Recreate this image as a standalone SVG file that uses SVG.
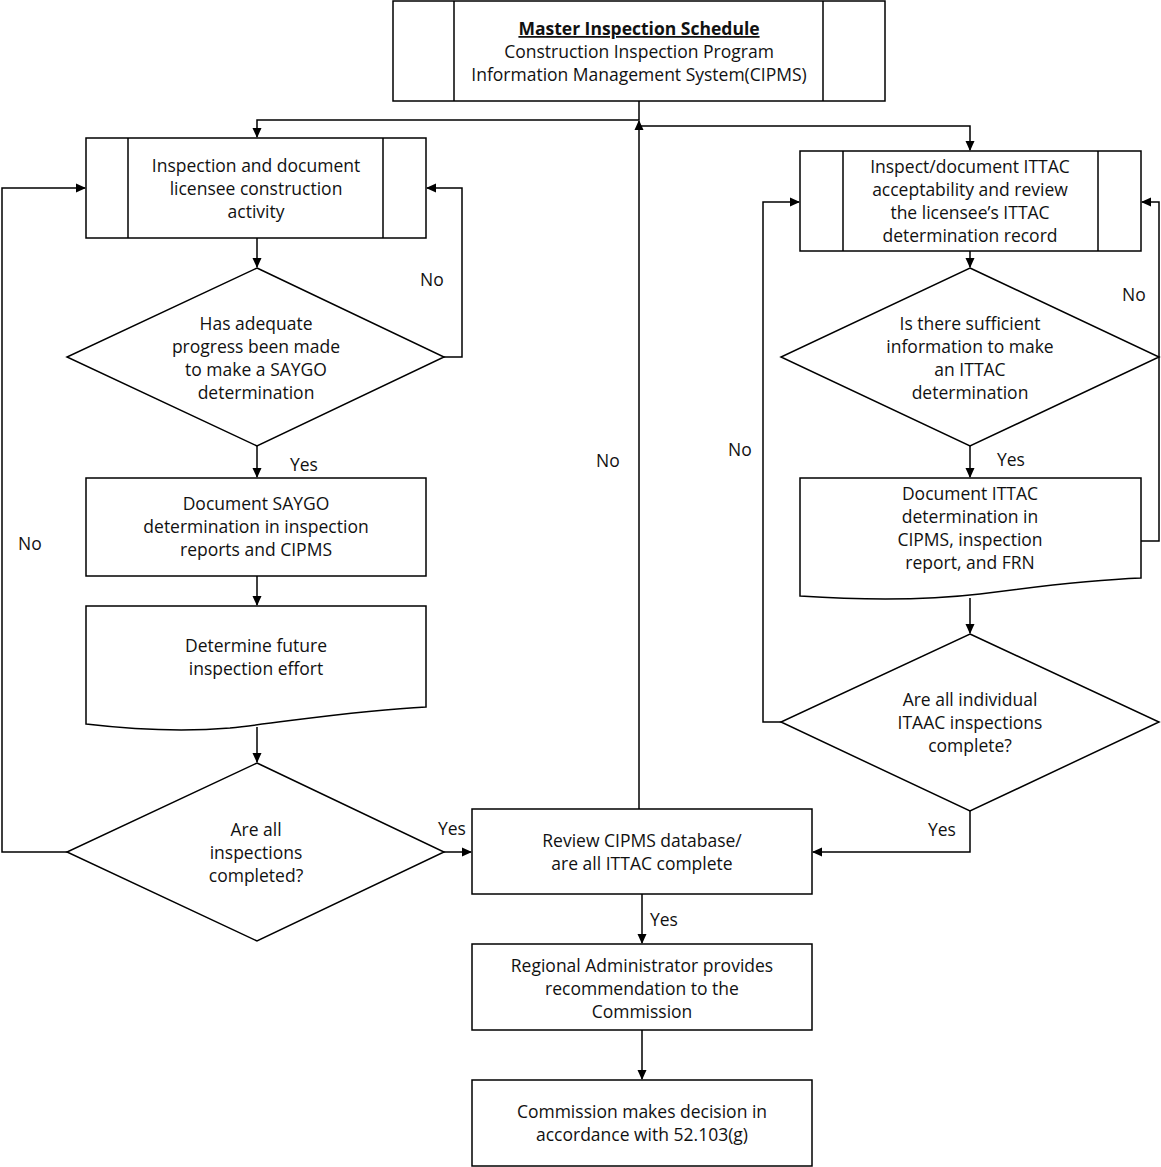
<svg xmlns="http://www.w3.org/2000/svg" width="1161" height="1167" viewBox="0 0 1161 1167">
<style>
.n{fill:#fff;stroke:#000;stroke-width:1.5}
.t{font-family:"Open Sans","Noto Sans","DejaVu Sans",sans-serif;font-size:17.5px;fill:#111;text-anchor:middle}
.c{fill:none;stroke:#000;stroke-width:1.5}
.l{font-family:"Open Sans","Noto Sans","DejaVu Sans",sans-serif;font-size:17.5px;fill:#111}
</style>
<defs>
<marker id="ah" markerWidth="10" markerHeight="10" refX="9" refY="5" orient="auto" markerUnits="userSpaceOnUse">
<path d="M0,0.5 L10,5 L0,9.5 Z" fill="#000"/>
</marker>
</defs>
<rect width="1161" height="1167" fill="#fff"/>

<g id="connectors">
<path class="c" d="M639,101 V120 H257 V137" marker-end="url(#ah)"/>
<path class="c" d="M639,126 H970 V150" marker-end="url(#ah)"/>
<path class="c" d="M639,809 V121" marker-end="url(#ah)"/>
<path class="c" d="M257,238 V267" marker-end="url(#ah)"/>
<path class="c" d="M444,357 H462 V188 H427" marker-end="url(#ah)"/>
<path class="c" d="M257,446 V477" marker-end="url(#ah)"/>
<path class="c" d="M257,576 V605" marker-end="url(#ah)"/>
<path class="c" d="M257,727 V762" marker-end="url(#ah)"/>
<path class="c" d="M67,852 H2 V188 H85" marker-end="url(#ah)"/>
<path class="c" d="M444,852 H471" marker-end="url(#ah)"/>
<path class="c" d="M642,894 V943" marker-end="url(#ah)"/>
<path class="c" d="M642,1030 V1079" marker-end="url(#ah)"/>
<path class="c" d="M970,251 V267" marker-end="url(#ah)"/>
<path class="c" d="M970,446 V477" marker-end="url(#ah)"/>
<path class="c" d="M1141,541 H1159 V202 H1142" marker-end="url(#ah)"/>
<path class="c" d="M970,598 V633" marker-end="url(#ah)"/>
<path class="c" d="M781,722 H763 V202 H799" marker-end="url(#ah)"/>
<path class="c" d="M970,811 V852 H813" marker-end="url(#ah)"/>
<text class="l" x="420" y="286">No</text>
<text class="l" x="290" y="471">Yes</text>
<text class="l" x="18" y="550">No</text>
<text class="l" x="438" y="835">Yes</text>
<text class="l" x="596" y="467">No</text>
<text class="l" x="650" y="926">Yes</text>
<text class="l" x="1122" y="301">No</text>
<text class="l" x="997" y="466">Yes</text>
<text class="l" x="728" y="456">No</text>
<text class="l" x="928" y="836">Yes</text>
</g>

<g id="master">
<rect class="n" x="393" y="1" width="492" height="100"/>
<line class="c" x1="454" y1="1" x2="454" y2="101"/>
<line class="c" x1="823" y1="1" x2="823" y2="101"/>
<text class="t" x="639" y="35" font-weight="bold" text-decoration="underline">Master Inspection Schedule</text>
<text class="t" x="639" y="58">Construction Inspection Program</text>
<text class="t" x="639" y="81">Information Management System(CIPMS)</text>
</g>

<g id="inspect-activity">
<rect class="n" x="86" y="138" width="340" height="100"/>
<line class="c" x1="128" y1="138" x2="128" y2="238"/>
<line class="c" x1="383" y1="138" x2="383" y2="238"/>
<text class="t" x="256" y="172">Inspection and document</text>
<text class="t" x="256" y="195">licensee construction</text>
<text class="t" x="256" y="218">activity</text>
</g>

<g id="saygo-decision">
<polygon class="n" points="257,268 444,357 257,446 67,357"/>
<text class="t" x="256" y="330">Has adequate</text>
<text class="t" x="256" y="353">progress been made</text>
<text class="t" x="256" y="376">to make a SAYGO</text>
<text class="t" x="256" y="399">determination</text>
</g>

<g id="document-saygo">
<rect class="n" x="86" y="478" width="340" height="98"/>
<text class="t" x="256" y="510">Document SAYGO</text>
<text class="t" x="256" y="533">determination in inspection</text>
<text class="t" x="256" y="556">reports and CIPMS</text>
</g>

<g id="future-effort">
<path class="n" d="M86,606 H426 V707 C360,710 300,720 230,728 C170,733 120,728 86,724 Z"/>
<text class="t" x="256" y="652">Determine future</text>
<text class="t" x="256" y="675">inspection effort</text>
</g>

<g id="all-inspections">
<polygon class="n" points="257,763 444,852 257,941 67,852"/>
<text class="t" x="256" y="836">Are all</text>
<text class="t" x="256" y="859">inspections</text>
<text class="t" x="256" y="882">completed?</text>
</g>

<g id="review-cipms">
<rect class="n" x="472" y="809" width="340" height="85"/>
<text class="t" x="642" y="847">Review CIPMS database/</text>
<text class="t" x="642" y="870">are all ITTAC complete</text>
</g>

<g id="regional-admin">
<rect class="n" x="472" y="944" width="340" height="86"/>
<text class="t" x="642" y="972">Regional Administrator provides</text>
<text class="t" x="642" y="995">recommendation to the</text>
<text class="t" x="642" y="1018">Commission</text>
</g>

<g id="commission">
<rect class="n" x="472" y="1080" width="340" height="86"/>
<text class="t" x="642" y="1118">Commission makes decision in</text>
<text class="t" x="642" y="1141">accordance with 52.103(g)</text>
</g>

<g id="inspect-ittac">
<rect class="n" x="800" y="151" width="341" height="100"/>
<line class="c" x1="843" y1="151" x2="843" y2="251"/>
<line class="c" x1="1098" y1="151" x2="1098" y2="251"/>
<text class="t" x="970" y="173">Inspect/document ITTAC</text>
<text class="t" x="970" y="196">acceptability and review</text>
<text class="t" x="970" y="219">the licensee’s ITTAC</text>
<text class="t" x="970" y="242">determination record</text>
</g>

<g id="sufficient-info">
<polygon class="n" points="970,268 1159,357 970,446 781,357"/>
<text class="t" x="970" y="330">Is there sufficient</text>
<text class="t" x="970" y="353">information to make</text>
<text class="t" x="970" y="376">an ITTAC</text>
<text class="t" x="970" y="399">determination</text>
</g>

<g id="document-ittac">
<path class="n" d="M800,478 H1141 V578 C1090,580 1040,586 980,594 C920,601 860,600 800,596 Z"/>
<text class="t" x="970" y="500">Document ITTAC</text>
<text class="t" x="970" y="523">determination in</text>
<text class="t" x="970" y="546">CIPMS, inspection</text>
<text class="t" x="970" y="569">report, and FRN</text>
</g>

<g id="all-itaac">
<polygon class="n" points="970,634 1159,722 970,811 781,722"/>
<text class="t" x="970" y="706">Are all individual</text>
<text class="t" x="970" y="729">ITAAC inspections</text>
<text class="t" x="970" y="752">complete?</text>
</g>
</svg>
